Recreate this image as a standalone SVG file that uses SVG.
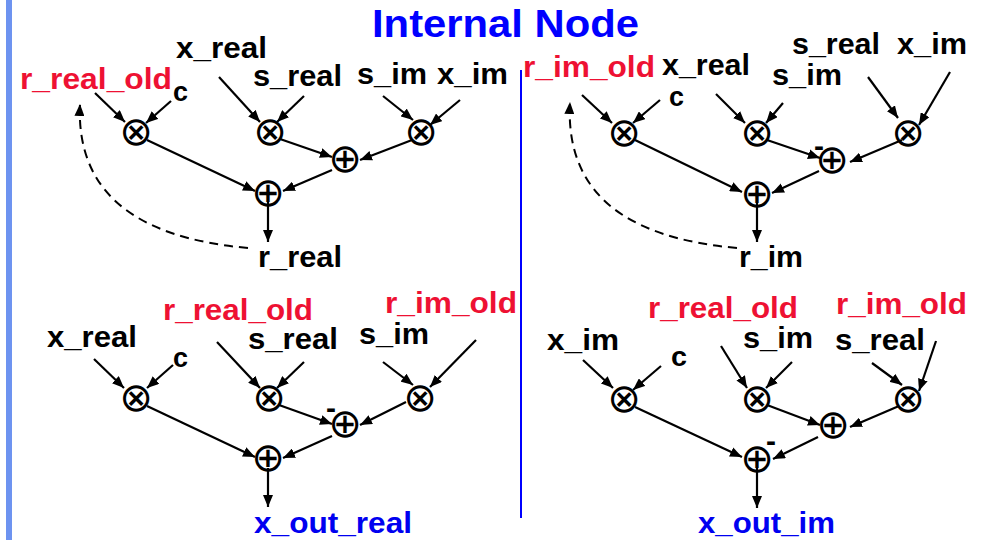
<svg xmlns="http://www.w3.org/2000/svg" width="988" height="540" viewBox="0 0 988 540">
<defs>
<style>
.lb{font-family:"Liberation Sans",Arial,sans-serif;font-weight:bold;font-size:30px;fill:#000}
.red{fill:#ee1133}
.blue{fill:#0000f0}
.c{font-size:27px}
.op{font-family:"DejaVu Sans",sans-serif;font-weight:normal;font-size:40px;fill:#000;text-anchor:middle;dominant-baseline:central}
.ar{stroke:#000;stroke-width:2.2;fill:none;marker-end:url(#ah)}
.da{stroke:#000;stroke-width:2;fill:none;stroke-dasharray:9,6;marker-end:url(#ah)}
</style>
<marker id="ah" markerUnits="userSpaceOnUse" markerWidth="13" markerHeight="10" refX="12" refY="5" orient="auto">
<path d="M0,0 L12,5 L0,10 z" fill="#000"/>
</marker>
</defs>
<rect width="988" height="540" fill="#fff"/>
<rect x="6" y="0" width="6" height="540" fill="#6d93f0"/>
<line x1="521" y1="70" x2="521" y2="518" stroke="#0000ff" stroke-width="2"/>
<text id="title" x="372" y="37" font-family="Liberation Sans,Arial,sans-serif" font-weight="bold" font-size="38" fill="#0000ff" textLength="267" lengthAdjust="spacingAndGlyphs">Internal Node</text>

<g id="connectors">
<line class="ar" x1="95" y1="93" x2="125" y2="122"/>
<line class="ar" x1="171" y1="101" x2="146" y2="123"/>
<line class="ar" x1="219" y1="77" x2="260" y2="122"/>
<line class="ar" x1="304" y1="96" x2="277" y2="122"/>
<line class="ar" x1="383" y1="96" x2="413" y2="120"/>
<line class="ar" x1="460" y1="100" x2="430" y2="125"/>
<line class="ar" x1="280" y1="139" x2="332" y2="157"/>
<line class="ar" x1="412" y1="140" x2="360" y2="160"/>
<line class="ar" x1="147" y1="140" x2="255" y2="191"/>
<line class="ar" x1="332" y1="170" x2="283" y2="191"/>
<line class="ar" x1="268" y1="202" x2="268" y2="242"/>
<path class="da" d="M248,248 C135,238 76,192 80,104"/>

<line class="ar" x1="582" y1="95" x2="612" y2="123"/>
<line class="ar" x1="660" y1="100" x2="633" y2="123"/>
<line class="ar" x1="716" y1="94" x2="745" y2="123"/>
<line class="ar" x1="783" y1="103" x2="766" y2="123"/>
<line class="ar" x1="868" y1="77" x2="898" y2="118"/>
<line class="ar" x1="950" y1="72" x2="919" y2="125"/>
<line class="ar" x1="767" y1="140" x2="820" y2="158"/>
<line class="ar" x1="902" y1="140" x2="850" y2="162"/>
<line class="ar" x1="635" y1="140" x2="742" y2="192"/>
<line class="ar" x1="819" y1="171" x2="772" y2="193"/>
<line class="ar" x1="757" y1="203" x2="757" y2="242"/>
<path class="da" d="M737,248 C624,238 565,192 570,102"/>

<line class="ar" x1="94" y1="359" x2="124" y2="388"/>
<line class="ar" x1="173" y1="365" x2="147" y2="388"/>
<line class="ar" x1="217" y1="342" x2="260" y2="388"/>
<line class="ar" x1="304" y1="362" x2="277" y2="388"/>
<line class="ar" x1="383" y1="362" x2="413" y2="385"/>
<line class="ar" x1="476" y1="340" x2="430" y2="387"/>
<line class="ar" x1="279" y1="405" x2="332" y2="424"/>
<line class="ar" x1="406" y1="402" x2="360" y2="425"/>
<line class="ar" x1="147" y1="406" x2="255" y2="457"/>
<line class="ar" x1="332" y1="436" x2="283" y2="458"/>
<line class="ar" x1="268" y1="468" x2="268" y2="507"/>

<line class="ar" x1="583" y1="360" x2="613" y2="388"/>
<line class="ar" x1="661" y1="366" x2="633" y2="390"/>
<line class="ar" x1="721" y1="346" x2="747" y2="388"/>
<line class="ar" x1="792" y1="362" x2="766" y2="388"/>
<line class="ar" x1="872" y1="363" x2="902" y2="385"/>
<line class="ar" x1="936" y1="341" x2="919" y2="391"/>
<line class="ar" x1="767" y1="405" x2="820" y2="425"/>
<line class="ar" x1="899" y1="406" x2="850" y2="427"/>
<line class="ar" x1="635" y1="407" x2="742" y2="457"/>
<line class="ar" x1="818" y1="437" x2="773" y2="459"/>
<line class="ar" x1="757" y1="468" x2="757" y2="508"/>
</g>

<g id="panel-top-left">
<g id="tl-r_real_old"><text class="lb red" x="20" y="89" textLength="152" lengthAdjust="spacingAndGlyphs">r_real_old</text></g>
<g id="tl-x_real"><text class="lb" x="176" y="58" textLength="91" lengthAdjust="spacingAndGlyphs">x_real</text></g>
<g id="tl-s_real"><text class="lb" x="253" y="86" textLength="89" lengthAdjust="spacingAndGlyphs">s_real</text></g>
<g id="tl-c"><text class="lb c" x="173" y="101" textLength="15" lengthAdjust="spacingAndGlyphs">c</text></g>
<g id="tl-s_im"><text class="lb" x="357" y="84" textLength="70" lengthAdjust="spacingAndGlyphs">s_im</text></g>
<g id="tl-x_im"><text class="lb" x="437" y="84" textLength="71" lengthAdjust="spacingAndGlyphs">x_im</text></g>
<g id="tl-r_real"><text class="lb" x="258" y="267" textLength="84" lengthAdjust="spacingAndGlyphs">r_real</text></g>
<g id="tl-m1"><text class="op" x="136" y="131">⊗</text></g>
<g id="tl-m2"><text class="op" x="270" y="131">⊗</text></g>
<g id="tl-m3"><text class="op" x="421" y="131">⊗</text></g>
<g id="tl-a1"><text class="op" x="345" y="158">⊕</text></g>
<g id="tl-a2"><text class="op" x="268" y="192">⊕</text></g>
</g>

<g id="panel-top-right">
<g id="tr-r_im_old"><text class="lb red" x="523" y="77" textLength="132" lengthAdjust="spacingAndGlyphs">r_im_old</text></g>
<g id="tr-x_real"><text class="lb" x="662" y="75" textLength="88" lengthAdjust="spacingAndGlyphs">x_real</text></g>
<g id="tr-s_real"><text class="lb" x="792" y="54" textLength="88" lengthAdjust="spacingAndGlyphs">s_real</text></g>
<g id="tr-x_im"><text class="lb" x="897" y="54" textLength="70" lengthAdjust="spacingAndGlyphs">x_im</text></g>
<g id="tr-s_im"><text class="lb" x="772" y="85" textLength="70" lengthAdjust="spacingAndGlyphs">s_im</text></g>
<g id="tr-c"><text class="lb c" x="669" y="106" textLength="15" lengthAdjust="spacingAndGlyphs">c</text></g>
<g id="tr-r_im"><text class="lb" x="739" y="267" textLength="64" lengthAdjust="spacingAndGlyphs">r_im</text></g>
<g id="tr-minus"><text class="lb" x="814" y="156">-</text></g>
<g id="tr-m1"><text class="op" x="624" y="132">⊗</text></g>
<g id="tr-m2"><text class="op" x="757" y="132">⊗</text></g>
<g id="tr-m3"><text class="op" x="908" y="132">⊗</text></g>
<g id="tr-a1"><text class="op" x="832" y="159">⊕</text></g>
<g id="tr-a2"><text class="op" x="757" y="193">⊕</text></g>
</g>

<g id="panel-bottom-left">
<g id="bl-x_real"><text class="lb" x="47" y="347" textLength="90" lengthAdjust="spacingAndGlyphs">x_real</text></g>
<g id="bl-r_real_old"><text class="lb red" x="163" y="320" textLength="150" lengthAdjust="spacingAndGlyphs">r_real_old</text></g>
<g id="bl-s_real"><text class="lb" x="248" y="349" textLength="90" lengthAdjust="spacingAndGlyphs">s_real</text></g>
<g id="bl-s_im"><text class="lb" x="359" y="344" textLength="70" lengthAdjust="spacingAndGlyphs">s_im</text></g>
<g id="bl-r_im_old"><text class="lb red" x="385" y="313" textLength="132" lengthAdjust="spacingAndGlyphs">r_im_old</text></g>
<g id="bl-c"><text class="lb c" x="173" y="367" textLength="15" lengthAdjust="spacingAndGlyphs">c</text></g>
<g id="bl-minus"><text class="lb" x="326" y="418">-</text></g>
<g id="bl-x_out_real"><text class="lb blue" x="254" y="533" textLength="158" lengthAdjust="spacingAndGlyphs">x_out_real</text></g>
<g id="bl-m1"><text class="op" x="136" y="397">⊗</text></g>
<g id="bl-m2"><text class="op" x="269" y="397">⊗</text></g>
<g id="bl-m3"><text class="op" x="420" y="397">⊗</text></g>
<g id="bl-a1"><text class="op" x="345" y="423">⊕</text></g>
<g id="bl-a2"><text class="op" x="268" y="457">⊕</text></g>
</g>

<g id="panel-bottom-right">
<g id="br-x_im"><text class="lb" x="547" y="350" textLength="72" lengthAdjust="spacingAndGlyphs">x_im</text></g>
<g id="br-c"><text class="lb c" x="671" y="366" textLength="16" lengthAdjust="spacingAndGlyphs">c</text></g>
<g id="br-r_real_old"><text class="lb red" x="648" y="318" textLength="150" lengthAdjust="spacingAndGlyphs">r_real_old</text></g>
<g id="br-s_im"><text class="lb" x="743" y="348" textLength="70" lengthAdjust="spacingAndGlyphs">s_im</text></g>
<g id="br-r_im_old"><text class="lb red" x="836" y="314" textLength="131" lengthAdjust="spacingAndGlyphs">r_im_old</text></g>
<g id="br-s_real"><text class="lb" x="835" y="350" textLength="90" lengthAdjust="spacingAndGlyphs">s_real</text></g>
<g id="br-minus"><text class="lb" x="766" y="451">-</text></g>
<g id="br-x_out_im"><text class="lb blue" x="698" y="533" textLength="137" lengthAdjust="spacingAndGlyphs">x_out_im</text></g>
<g id="br-m1"><text class="op" x="624" y="398">⊗</text></g>
<g id="br-m2"><text class="op" x="757" y="398">⊗</text></g>
<g id="br-m3"><text class="op" x="908" y="398">⊗</text></g>
<g id="br-a1"><text class="op" x="833" y="424">⊕</text></g>
<g id="br-a2"><text class="op" x="757" y="458">⊕</text></g>
</g>
</svg>
